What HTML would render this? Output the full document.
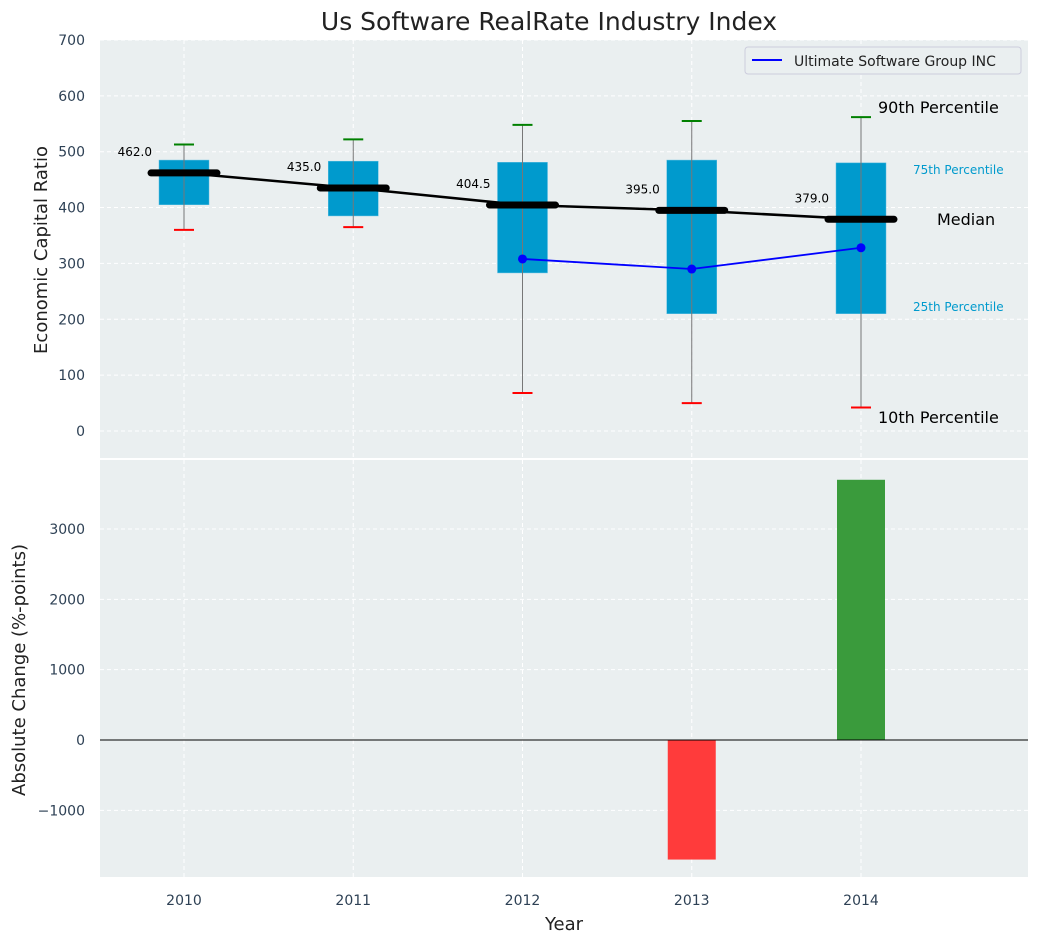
<!DOCTYPE html>
<html><head><meta charset="utf-8"><style>
body{margin:0;background:#fff;font-family:"DejaVu Sans","Liberation Sans",sans-serif}
</style></head><body>
<svg id="c" width="1039" height="942" xmlns="http://www.w3.org/2000/svg" font-family="DejaVu Sans, Liberation Sans, sans-serif"></svg>
<script>
const years=[2010,2011,2012,2013,2014];
const p10=[360,365,68,50,42];
const q1=[405,385,283,210,210];
const medians=[462,435,404.5,395,379];
const q3=[485,483,481,485,480];
const p90=[513,522,548,555,562];
const companyYears=[2012,2013,2014];
const companyVals=[308,290,328];
const changeYears=[2013,2014];
const changeVals=[-1700,3700];
const yTicksTop=[0,100,200,300,400,500,600,700];
const yTicksBot=[-1000,0,1000,2000,3000];

const NS="http://www.w3.org/2000/svg";
const svg=document.getElementById('c');
function el(t,a,txt){const e=document.createElementNS(NS,t);for(const k in a)e.setAttribute(k,a[k]);if(txt!==undefined)e.textContent=txt;svg.appendChild(e);return e;}
const L=100,R=1028;
const x=v=>184+(v-2010)*169.25;
const yT=v=>431-v*0.5586;
const yB=v=>740-v*0.07033;

let e=el('rect',{x:L,y:40,width:R-L,height:418,fill:'#eaeff0'});

e=el('rect',{x:L,y:460,width:R-L,height:417,fill:'#eaeff0'});


yTicksTop.forEach(t=>{const yy=yT(t);
 e=el('line',{x1:L,x2:R,y1:yy,y2:yy,stroke:'#fff','stroke-dasharray':'4,3'});
 e=el('text',{x:85,y:yy+5,'text-anchor':'end','font-size':14,fill:'#2e4155'},t);});
yTicksBot.forEach(t=>{const yy=yB(t);
 e=el('line',{x1:L,x2:R,y1:yy,y2:yy,stroke:'#fff','stroke-dasharray':'4,3'});
 e=el('text',{x:85,y:yy+5,'text-anchor':'end','font-size':14,fill:'#2e4155'},t<0?'\u2212'+(-t):t);});
years.forEach(yr=>{
 e=el('line',{x1:x(yr),x2:x(yr),y1:40,y2:458,stroke:'#fff','stroke-dasharray':'4,3'});
 e=el('line',{x1:x(yr),x2:x(yr),y1:460,y2:877,stroke:'#fff','stroke-dasharray':'4,3'});
 e=el('text',{x:x(yr),y:905,'text-anchor':'middle','font-size':14,fill:'#2e4155'},yr);});

const bw=25;
years.forEach((yr,i)=>{const cx=x(yr);
 e=el('rect',{x:cx-bw,y:yT(q3[i]),width:2*bw,height:yT(q1[i])-yT(q3[i]),fill:'#009acd',stroke:'#5bbde0','stroke-width':0.5});
 e=el('line',{x1:cx,x2:cx,y1:yT(p90[i]),y2:yT(p10[i]),stroke:'#777','stroke-width':1});
 e=el('line',{x1:cx-10,x2:cx+10,y1:yT(p90[i]),y2:yT(p90[i]),stroke:'green','stroke-width':2});
 e=el('line',{x1:cx-10,x2:cx+10,y1:yT(p10[i]),y2:yT(p10[i]),stroke:'red','stroke-width':2});
});
e=el('polyline',{points:years.map((yr,i)=>x(yr)+','+yT(medians[i])).join(' '),fill:'none',stroke:'#000','stroke-width':2.5});

years.forEach((yr,i)=>{const cx=x(yr);
 e=el('line',{x1:cx-33,x2:cx+33,y1:yT(medians[i]),y2:yT(medians[i]),stroke:'#000','stroke-width':7,'stroke-linecap':'round'});
 e=el('text',{x:cx-32,y:yT(medians[i])-17,'text-anchor':'end','font-size':12,fill:'#000'},medians[i].toFixed(1));
});
e=el('polyline',{points:companyYears.map((yr,i)=>x(yr)+','+yT(companyVals[i])).join(' '),fill:'none',stroke:'#0000ff','stroke-width':1.8});

companyYears.forEach((yr,i)=>{e=el('circle',{cx:x(yr),cy:yT(companyVals[i]),r:4.5,fill:'#0000ff'});});

const lx=x(2014);
[['90th Percentile',lx+17,113,16,'#000'],['75th Percentile',913,174,12,'#009acd'],['Median',937,225,16,'#000'],['25th Percentile',913,311,12,'#009acd'],['10th Percentile',lx+17,423,16,'#000']].forEach(a=>{
 e=el('text',{x:a[1],y:a[2],'font-size':a[3],fill:a[4]},a[0]);});

e=el('rect',{x:745,y:47,width:276,height:27,fill:'#eaeff0',stroke:'#ccd',rx:3});
e=el('line',{x1:752,x2:782,y1:60,y2:60,stroke:'#0000ff','stroke-width':2});
e=el('text',{x:794,y:66,'font-size':14,fill:'#222'},'Ultimate Software Group INC');

const bbw=24;
changeYears.forEach((yr,i)=>{const v=changeVals[i];const y0=yB(Math.max(v,0)),y1=yB(Math.min(v,0));
 e=el('rect',{x:x(yr)-bbw,y:y0,width:2*bbw,height:y1-y0,fill:v<0?'#ff3b3b':'#3a9b3c'});});
e=el('line',{x1:L,x2:R,y1:yB(0),y2:yB(0),stroke:'#000','stroke-width':1});

e=el('text',{x:549,y:30,'text-anchor':'middle','font-size':25,fill:'#222'},'Us Software RealRate Industry Index');
e=el('text',{x:564,y:930,'text-anchor':'middle','font-size':18,fill:'#222'},'Year');
e=el('text',{x:0,y:0,'text-anchor':'middle','font-size':18,fill:'#222',transform:'translate(47,250) rotate(-90)'},'Economic Capital Ratio');
e=el('text',{x:0,y:0,'text-anchor':'middle','font-size':18,fill:'#222',transform:'translate(25,670) rotate(-90)'},'Absolute Change (%-points)');
</script>
</body></html>
